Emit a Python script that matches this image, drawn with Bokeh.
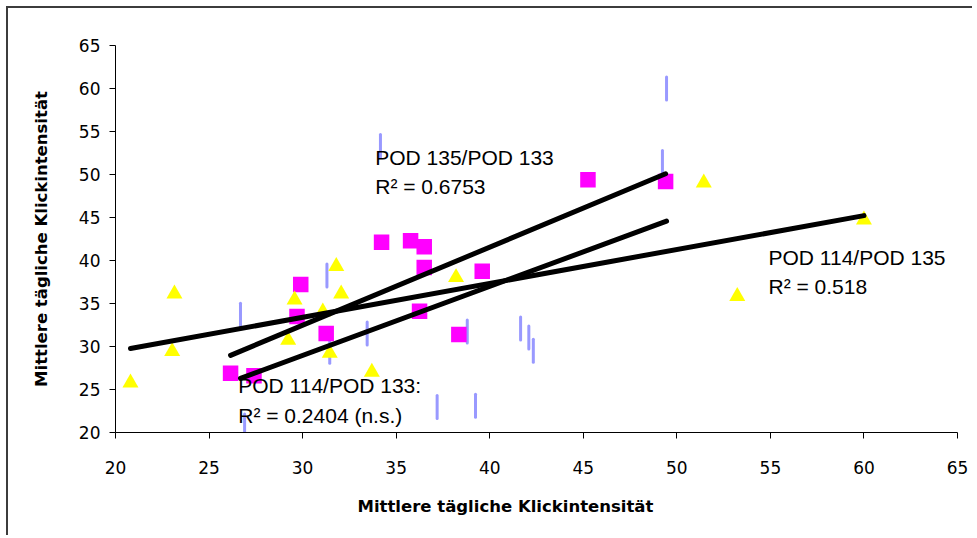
import numpy as np
from bokeh.plotting import figure
from bokeh.models import ColumnDataSource, Label, FixedTicker, Range1d, Title
from bokeh.transform import dodge
from bokeh.embed import file_html
from bokeh.resources import INLINE

# ---- data ----
# POD 135 / POD 133 (magenta squares)
sq_x = [26.15, 27.4, 29.9, 29.7, 31.26, 34.22, 35.77, 36.5, 36.5, 36.25, 38.35, 39.6, 45.25, 49.4]
sq_y = [26.9, 26.6, 37.2, 33.5, 31.5, 42.13, 42.3, 41.6, 39.2, 34.1, 31.4, 38.76, 49.4, 49.2]

# POD 114 / POD 135 (yellow triangles)
tri_x = [20.8, 23.15, 23.03, 31.8, 32.06, 29.57, 31.08, 29.23, 31.45, 33.7, 38.2, 51.44, 60.0, 53.23]
tri_y = [26.05, 36.4, 29.7, 39.6, 36.4, 35.7, 34.3, 31.0, 29.5, 27.3, 38.3, 49.3, 45.0, 36.1]

# POD 114 / POD 133 (light blue bars)
bar_x = [26.68, 26.9, 31.3, 31.45, 33.45, 37.19, 39.24, 38.8, 41.65, 42.09, 42.33, 34.16, 49.45, 49.23]
bar_y = [33.7, 20.8, 38.26, 29.4, 31.5, 22.97, 23.1, 31.75, 32.1, 31.05, 29.5, 53.3, 60.0, 51.45]

ticks = [20, 25, 30, 35, 40, 45, 50, 55, 60, 65]
axis_title = "Mittlere tägliche Klickintensität"

label_135_133 = ["POD 135/POD 133", "R² = 0.6753"]
label_114_135 = ["POD 114/POD 135", "R² = 0.518"]
label_114_133 = ["POD 114/POD 133:", "R² = 0.2404 (n.s.)"]

# ---- figure ----
p = figure(width=966, height=529, x_range=Range1d(20, 65), y_range=Range1d(20, 65),
           output_backend="svg", toolbar_location=None,
           min_border_left=107, min_border_right=17, min_border_top=37, min_border_bottom=105)
p.styles = {"margin-left": "6px", "margin-top": "6px",
            "border-left": "2px solid #3c3c3c", "border-top": "2px solid #3c3c3c"}

p.xgrid.grid_line_color = None
p.ygrid.grid_line_color = None
p.outline_line_color = None
p.background_fill_color = "white"
p.border_fill_color = "white"

for ax in (p.xaxis[0], p.yaxis[0]):
    ax.ticker = FixedTicker(ticks=ticks, minor_ticks=[])
    ax.major_tick_in = 0
    ax.major_tick_out = 6
    ax.minor_tick_in = 0
    ax.minor_tick_out = 0
    ax.axis_line_color = "black"
    ax.axis_line_width = 1
    ax.major_tick_line_color = "black"
    ax.major_label_text_font = "DejaVu Sans"
    ax.major_label_text_font_size = "17px"
    ax.major_label_text_color = "black"

p.yaxis.axis_label = axis_title
p.yaxis.axis_label_text_font = "DejaVu Sans"
p.yaxis.axis_label_text_font_style = "bold"
p.yaxis.axis_label_text_font_size = "16.5px"
p.yaxis.axis_label_text_color = "black"

p.xaxis.major_label_standoff = 22
p.yaxis.major_label_standoff = 9
p.yaxis.axis_label_standoff = 25

# x-axis title (sits left of the plot-area centre, as in the reference)
p.add_layout(Title(text=axis_title, align="left", offset=242, standoff=36,
                   text_font="DejaVu Sans", text_font_style="bold",
                   text_font_size="16.5px", text_color="black"), "below")

src_bar = ColumnDataSource(dict(x=bar_x, y=bar_y))
src_sq = ColumnDataSource(dict(x=sq_x, y=sq_y))
src_tri = ColumnDataSource(dict(x=tri_x, y=tri_y))

p.scatter(x="x", y="y", source=src_bar, marker="dash", size=23, angle=np.pi / 2,
          line_color="#9999FF", line_width=3, line_cap="round")
p.scatter(x="x", y="y", source=src_sq, marker="square", size=15.5,
          fill_color="#FF00FF", line_color=None)
p.scatter(x="x", y=dodge("y", -0.27, range=p.y_range), source=src_tri, marker="triangle", size=16,
          fill_color="#FFFF00", line_color=None)

# linear trend lines (least squares) over each series' x range
for xs, ys in ((tri_x, tri_y), (sq_x, sq_y), (bar_x, bar_y)):
    xa = np.array(xs)
    coef = np.polyfit(xa, np.array(ys), 1)
    lx = [xa.min(), xa.max()]
    ly = list(np.polyval(coef, lx))
    p.line(lx, ly, line_color="black", line_width=5, line_cap="round")

def add_label(x, y, txt):
    p.add_layout(Label(x=x, y=y, text=txt, text_font="Liberation Sans",
                       text_font_size="21px", text_color="black",
                       text_align="left", text_baseline="alphabetic"))

add_label(33.88, 51.92, label_135_133[0])
add_label(33.88, 48.55, label_135_133[1])
add_label(54.9, 40.31, label_114_135[0])
add_label(54.9, 36.92, label_114_135[1])
add_label(26.56, 25.47, label_114_133[0])
add_label(26.56, 21.98, label_114_133[1])

open("out.html", "w").write(file_html(p, INLINE))
